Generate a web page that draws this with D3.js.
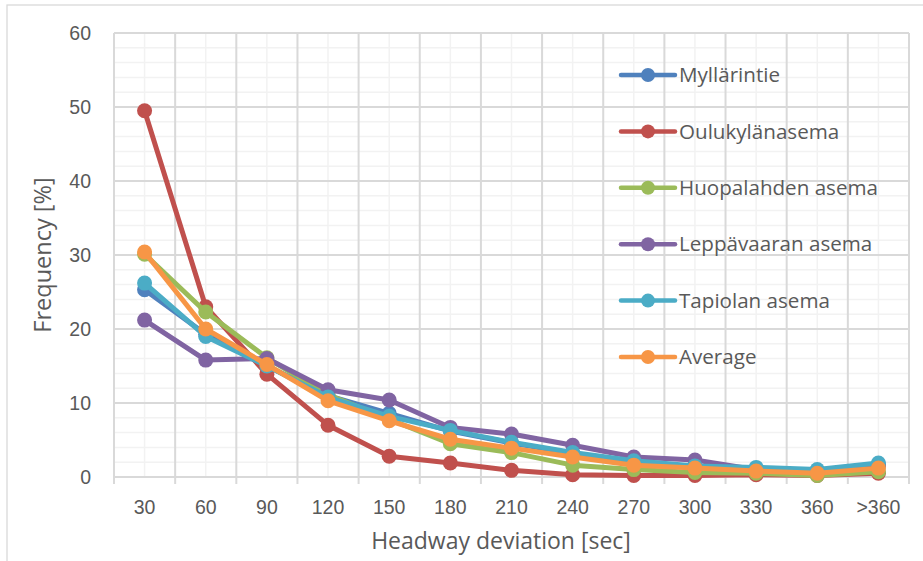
<!DOCTYPE html>
<html>
<head>
<meta charset="utf-8">
<script src="https://cdn.jsdelivr.net/npm/d3@7"></script>
<style>
  html, body { margin: 0; padding: 0; background: #fff; }
  svg { display: block; font-family: "Open Sans", sans-serif; }
</style>
</head>
<body>
<svg id="chart" width="923" height="561"></svg>
<script>
const categories = ["30","60","90","120","150","180","210","240","270","300","330","360",">360"];
const seriesNames = ["Myllärintie","Oulukylänasema","Huopalahden asema","Leppävaaran asema","Tapiolan asema","Average"];
const myllarintie = [25.3, 19.3, 15.0, 11.0, 8.6, 6.2, 4.6, 3.2, 2.0, 1.4, 1.0, 0.8, 1.7];
const oulukyla    = [49.5, 23.0, 13.9, 7.0, 2.8, 1.9, 0.9, 0.3, 0.2, 0.2, 0.3, 0.2, 0.5];
const huopalahti  = [30.1, 22.3, 16.1, 11.1, 7.8, 4.5, 3.3, 1.6, 1.0, 0.6, 0.5, 0.2, 0.7];
const leppavaara  = [21.2, 15.8, 16.0, 11.8, 10.4, 6.7, 5.8, 4.3, 2.7, 2.3, 1.0, 0.7, 1.5];
const tapiola     = [26.2, 19.0, 15.0, 10.8, 8.2, 6.3, 4.7, 3.3, 2.2, 1.5, 1.3, 1.0, 1.9];
const average     = [30.4, 20.0, 15.2, 10.3, 7.6, 5.1, 3.9, 2.7, 1.6, 1.2, 0.8, 0.5, 1.2];
const yTicks = [0, 10, 20, 30, 40, 50, 60];
const colors = ["#4F81BD","#C0504D","#9BBB59","#8064A2","#4BACC6","#F79646"];

const seriesValues = [myllarintie, oulukyla, huopalahti, leppavaara, tapiola, average];
const series = seriesNames.map((n, i) => ({ name: n, values: seriesValues[i], color: colors[i] }));

const svg = d3.select("#chart");
const plot = { left: 114, right: 909, top: 33, bottom: 477 };

// outer chart border
svg.append("rect").attr("x", 7).attr("y", 5).attr("width", 930).attr("height", 570)
  .attr("fill", "#fff").attr("stroke", "#D9D9D9").attr("stroke-width", 1.3);

const x = d3.scaleBand().domain(categories).range([plot.left, plot.right]).padding(0);
const y = d3.scaleLinear().domain([0, 60]).range([plot.bottom, plot.top]);
const cx = c => x(c) + x.bandwidth() / 2;

const grid = svg.append("g");
// minor horizontal
grid.selectAll(".hmin").data(d3.range(2, 60, 2).filter(v => v % 10 !== 0)).join("line")
  .attr("x1", plot.left).attr("x2", plot.right).attr("y1", d => y(d)).attr("y2", d => y(d))
  .attr("stroke", "#F2F2F2").attr("stroke-width", 1.5);
// minor vertical (category centers)
grid.selectAll(".vmin").data(categories).join("line")
  .attr("x1", d => cx(d)).attr("x2", d => cx(d)).attr("y1", plot.top).attr("y2", plot.bottom)
  .attr("stroke", "#F2F2F2").attr("stroke-width", 1.5);
// major horizontal
grid.selectAll(".hmaj").data(yTicks).join("line")
  .attr("x1", plot.left).attr("x2", plot.right).attr("y1", d => y(d)).attr("y2", d => y(d))
  .attr("stroke", "#D9D9D9").attr("stroke-width", 2);
// major vertical (category boundaries)
const bounds = categories.map(c => x(c)).concat([plot.right]);
grid.selectAll(".vmaj").data(bounds).join("line")
  .attr("x1", d => d).attr("x2", d => d).attr("y1", plot.top).attr("y2", plot.bottom)
  .attr("stroke", "#D9D9D9").attr("stroke-width", 2);
// x tick marks
grid.selectAll(".xt").data(bounds).join("line")
  .attr("x1", d => d).attr("x2", d => d).attr("y1", plot.bottom).attr("y2", plot.bottom + 7)
  .attr("stroke", "#D9D9D9").attr("stroke-width", 2);

// y axis labels
const yAxis = d3.axisLeft(y).tickValues(yTicks).tickSize(0).tickPadding(0);
const yg = svg.append("g").attr("transform", `translate(91,0)`).call(yAxis);
yg.select(".domain").remove();
yg.selectAll("text").attr("fill", "#595959").style("font-size", "19.5px").attr("x", 0).attr("dy", "0.35em");

// x axis labels
const xAxis = d3.axisBottom(x).tickSize(0).tickPadding(0);
const xg = svg.append("g").attr("transform", `translate(0,${plot.bottom})`).call(xAxis);
xg.select(".domain").remove();
xg.selectAll("text").attr("fill", "#595959").style("font-size", "19.5px").attr("y", 30).attr("dy", "0.35em");

// axis titles
svg.append("text").attr("x", 501).attr("y", 541).attr("dy", "0.35em").attr("text-anchor", "middle")
  .attr("fill", "#595959").style("font-size", "23px").text("Headway deviation [sec]");
svg.append("text").attr("transform", "translate(43,255) rotate(-90)").attr("dy", "0.35em")
  .attr("text-anchor", "middle").attr("fill", "#595959").style("font-size", "23.5px").text("Frequency [%]");

// series
const line = d3.line().x((d, i) => cx(categories[i])).y(d => y(d));
const sg = svg.append("g");
series.forEach(s => {
  const g = sg.append("g");
  g.append("path").attr("d", line(s.values)).attr("fill", "none").attr("stroke", s.color)
    .attr("stroke-width", 5).attr("stroke-linejoin", "round").attr("stroke-linecap", "round");
  g.selectAll("circle").data(s.values).join("circle")
    .attr("cx", (d, i) => cx(categories[i])).attr("cy", d => y(d)).attr("r", 7.5).attr("fill", s.color);
});

// legend
const leg = svg.append("g");
const legY = d3.scalePoint().domain(seriesNames).range([75, 357]);
series.forEach(s => {
  const yy = legY(s.name);
  leg.append("line").attr("x1", 621).attr("x2", 675).attr("y1", yy).attr("y2", yy)
    .attr("stroke", s.color).attr("stroke-width", 4.5).attr("stroke-linecap", "round");
  leg.append("circle").attr("cx", 648).attr("cy", yy).attr("r", 7).attr("fill", s.color);
  leg.append("text").attr("x", 679).attr("y", yy).attr("dy", "0.35em").attr("fill", "#595959")
    .style("font-size", "20.6px").text(s.name);
});
</script>
</body>
</html>
